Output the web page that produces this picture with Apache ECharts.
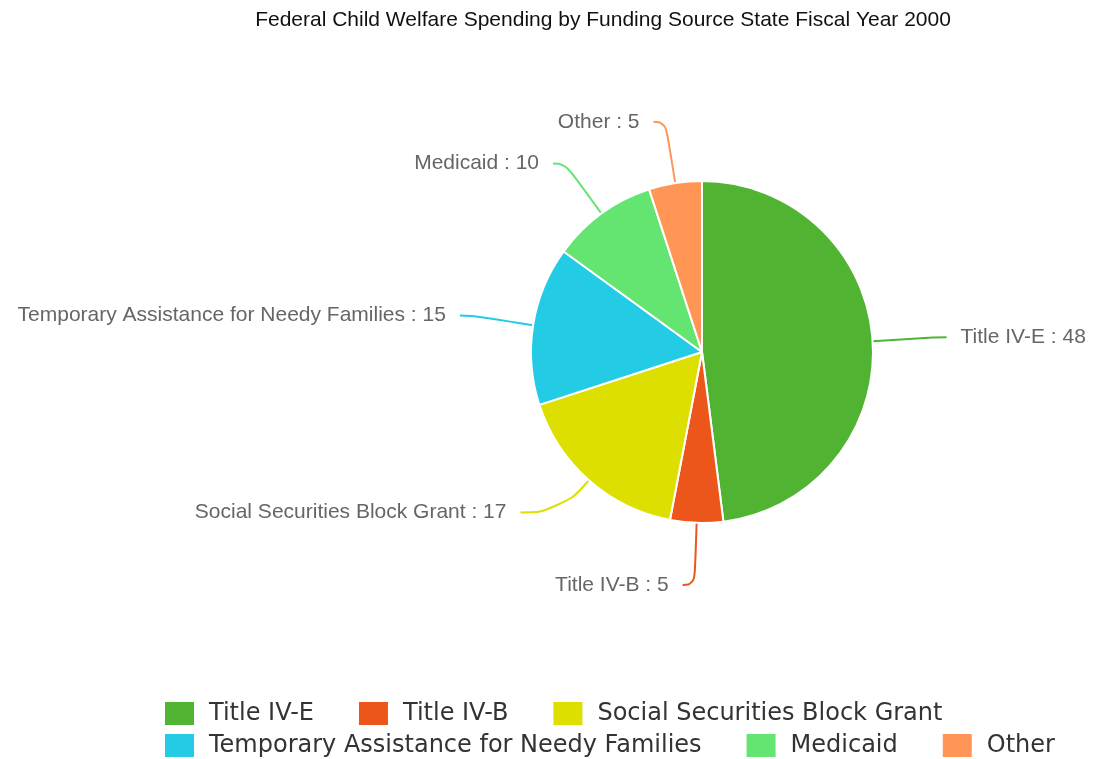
<!DOCTYPE html>
<html><head><meta charset="utf-8">
<script src="https://cdn.jsdelivr.net/npm/echarts@6/dist/echarts.min.js"></script>
<style>html,body{margin:0;padding:0;background:#fff}#c{width:1097px;height:759px}</style>
</head><body><div id="c"></div>
<script>
const categories = ['Title IV-E','Title IV-B','Social Securities Block Grant','Temporary Assistance for Needy Families','Medicaid','Other'];
const values = [48,5,17,15,10,5];
const colors = ['#50B432','#ED561B','#DDDF00','#24CBE5','#64E572','#FF9655'];
const legendRow1 = categories.slice(0,3);
const legendRow2 = categories.slice(3);

const chart = echarts.init(document.getElementById('c'));
const legendCommon = {
  orient: 'horizontal', left: 158, itemWidth: 31, itemHeight: 25, itemGap: 43,
  icon: 'rect',
  textStyle: {fontFamily: 'DejaVu Sans', fontSize: 24, color: '#333', padding: [0,0,0,9]}
};
chart.setOption({
  animation: false,
  color: colors,
  title: {
    text: 'Federal Child Welfare Spending by Funding Source State Fiscal Year 2000',
    left: 598, top: 5, textAlign: 'center',
    textStyle: {fontFamily: 'Liberation Sans', fontSize: 21, fontWeight: 'normal', color: '#111'}
  },
  legend: [
    Object.assign({data: legendRow1, top: 695}, legendCommon),
    Object.assign({data: legendRow2, top: 727}, legendCommon)
  ],
  series: [{
    type: 'pie',
    center: [702, 352],
    radius: 171,
    startAngle: 90,
    clockwise: true,
    data: categories.map((c,i)=>{
      const d = {name:c, value:values[i]};
      if (i === 2) d.labelLine = {length: 43, length2: 40};
      return d;
    }),
    itemStyle: {borderColor: '#fff', borderWidth: 2},
    label: {
      formatter: '{b} : {c}',
      fontFamily: 'Liberation Sans', fontSize: 21, color: '#666',
      distanceToLabelLine: 14
    },
    labelLine: {length: 62, length2: 12, smooth: 0.5, lineStyle: {width: 2}},
    emphasis: {disabled: true}
  }]
});
</script>
</body></html>
